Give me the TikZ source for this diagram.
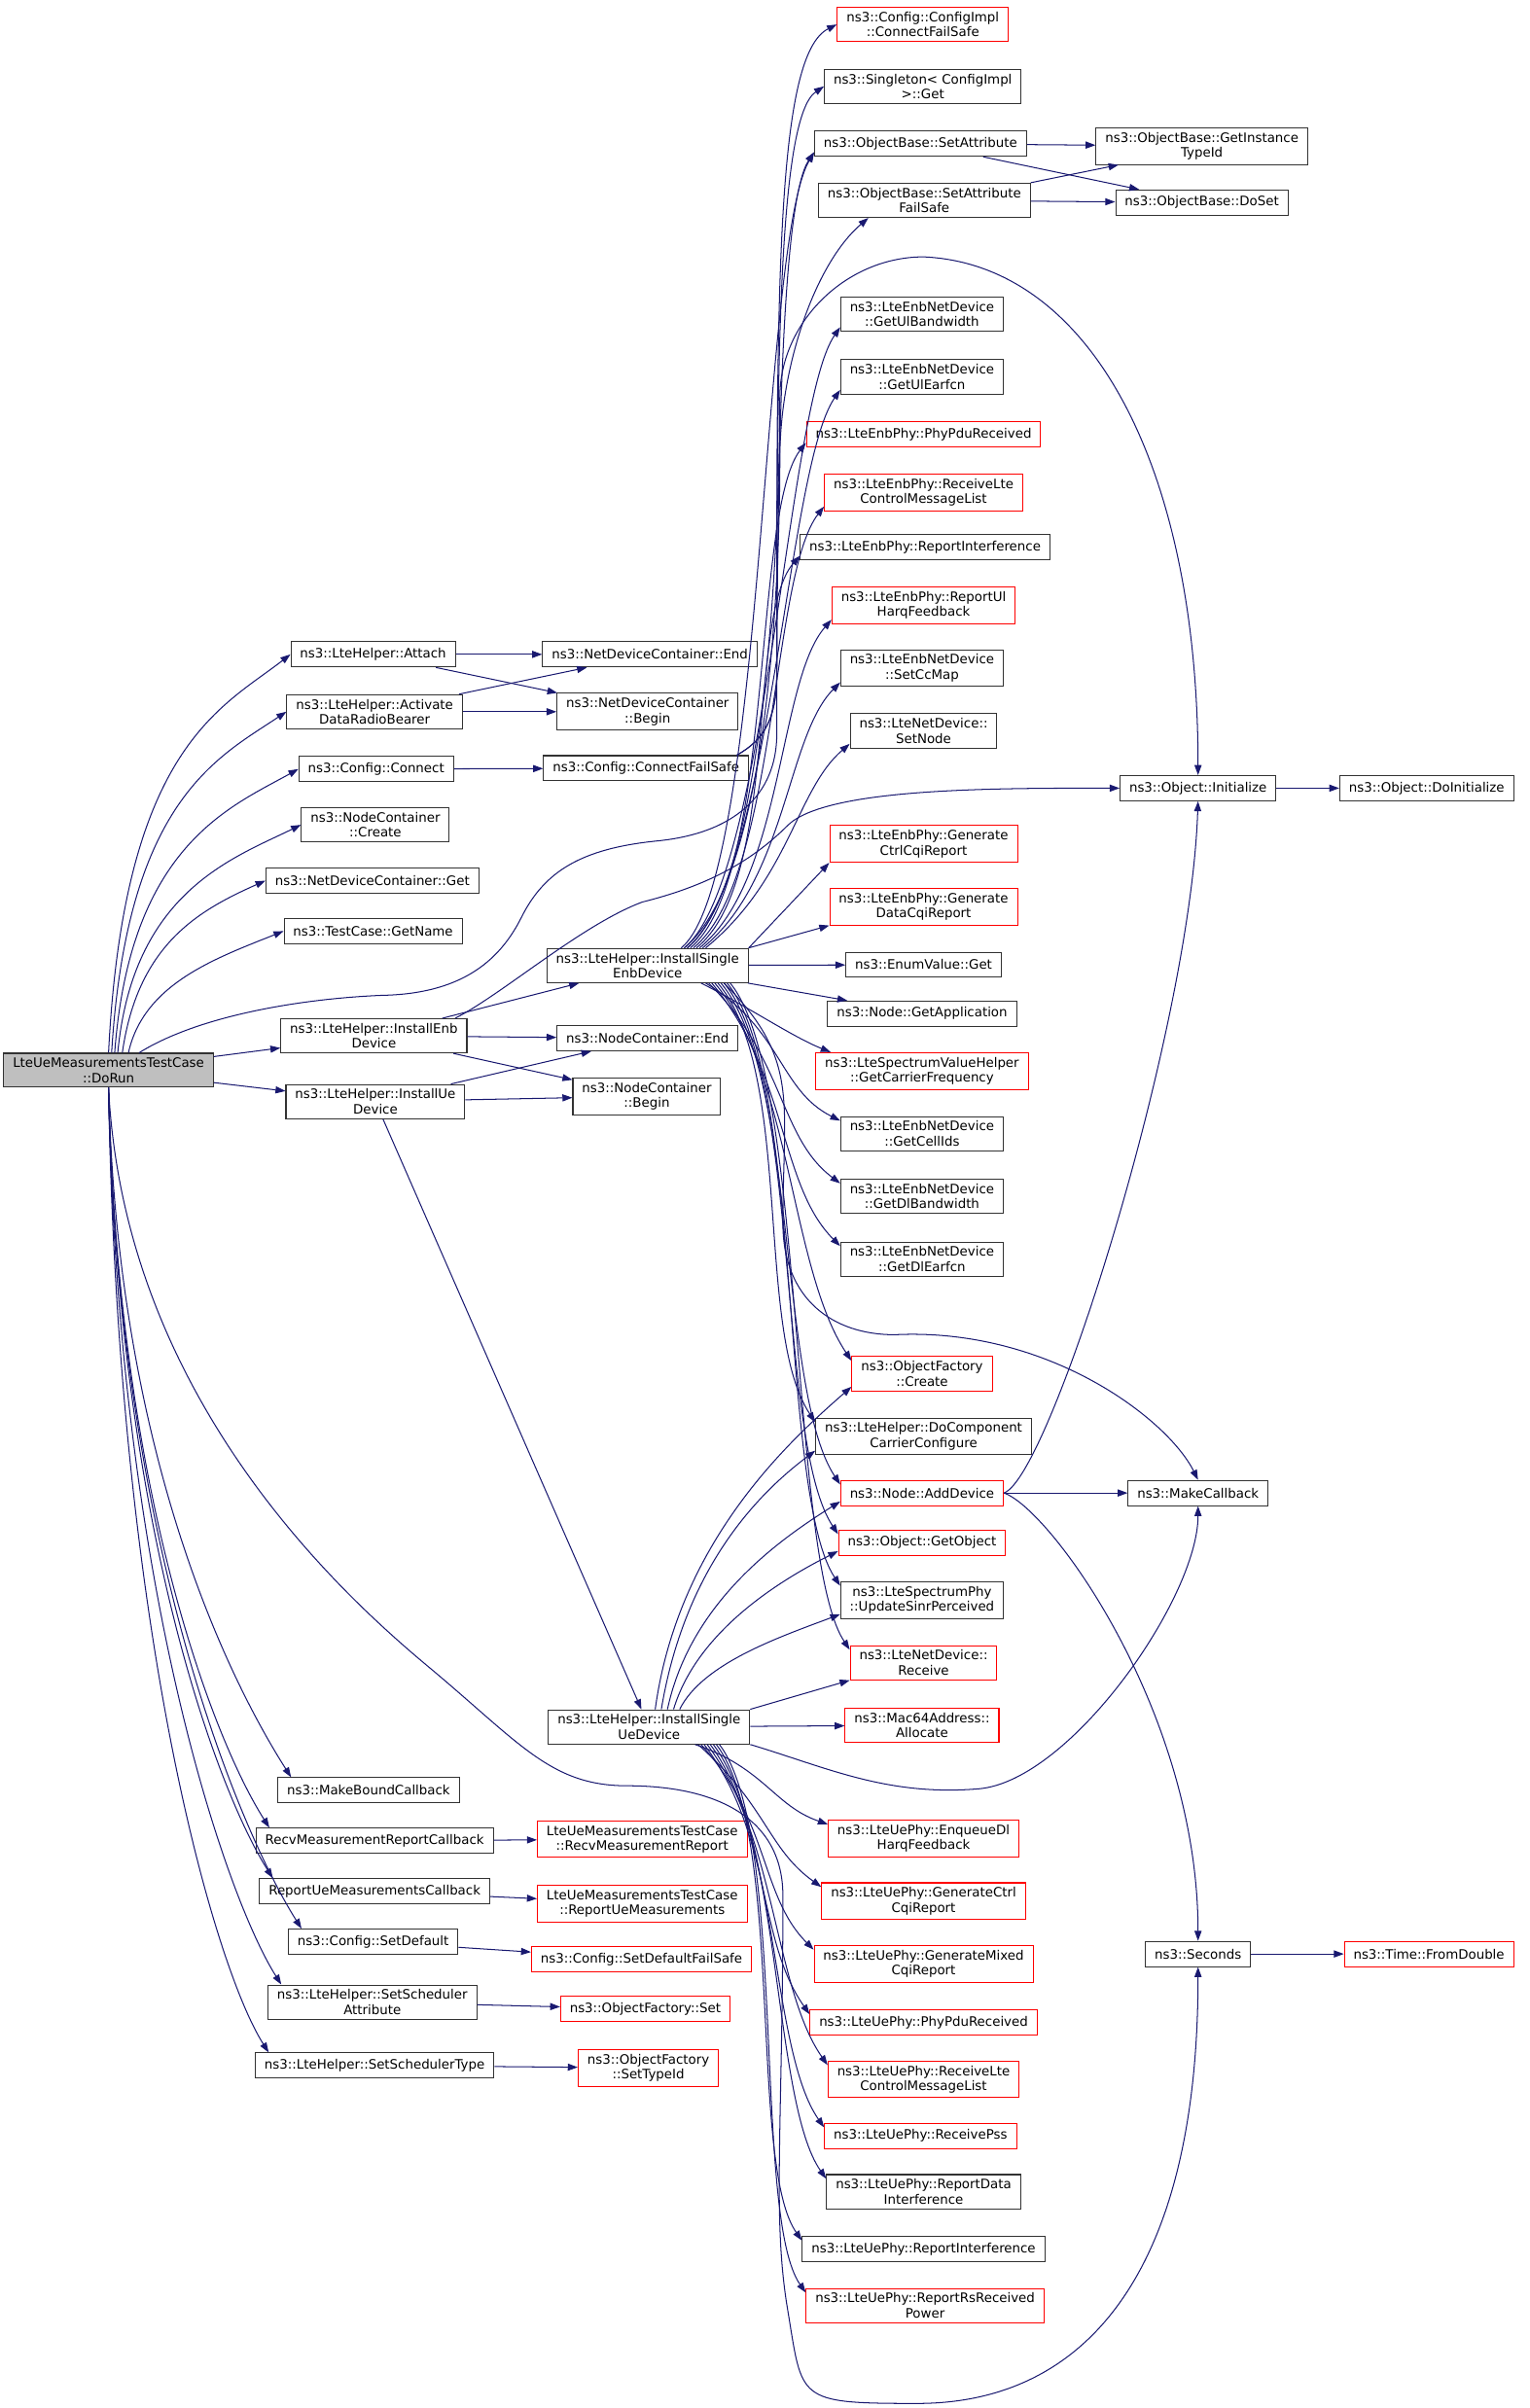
\documentclass[tikz,border=0pt]{standalone}
\usepackage{fontspec}
\setmainfont{DejaVu Sans}
\usetikzlibrary{arrows.meta}
\definecolor{edgeblue}{RGB}{25,25,112}
\definecolor{rootgray}{RGB}{191,191,191}

\begin{document}
\begin{tikzpicture}[x=1pt,y=-1pt,>={Triangle[length=6.5pt,width=4.6pt]},
    fn/.style={draw=black!80,line width=0.65pt,fill=white,align=center,inner xsep=6pt,inner ysep=3pt,minimum height=16.5pt,font=\fontsize{8.5}{9.8}\selectfont},
    fnred/.style={fn,draw=red},
    fnroot/.style={fn,fill=rootgray},
    call/.style={->,draw=edgeblue,line width=0.65pt}]

    \useasboundingbox (0,0) rectangle (1000,1575);

    \node[fnroot] (dorun) at (71,700) {LteUeMeasurementsTestCase\\::DoRun};

    \node[fn] (attach) at (244,428) {ns3::LteHelper::Attach};
    \node[fn] (activate) at (245,465.5) {ns3::LteHelper::Activate\\DataRadioBearer};
    \node[fn] (connect) at (246,503) {ns3::Config::Connect};
    \node[fn] (create) at (245.5,539.5) {ns3::NodeContainer\\::Create};
    \node[fn] (ndcget) at (243.5,576) {ns3::NetDeviceContainer::Get};
    \node[fn] (getname) at (244,609) {ns3::TestCase::GetName};
    \node[fn] (installenb) at (244.5,677.5) {ns3::LteHelper::InstallEnb\\Device};
    \node[fn] (installue) at (245.5,720.5) {ns3::LteHelper::InstallUe\\Device};
    \node[fn] (mkbound) at (241,1171) {ns3::MakeBoundCallback};
    \node[fn] (recvcb) at (245,1204) {RecvMeasurementReportCallback};
    \node[fn] (reportcb) at (245,1237) {ReportUeMeasurementsCallback};
    \node[fn] (setdefault) at (244,1270) {ns3::Config::SetDefault};
    \node[fn] (setschedattr) at (243.5,1309.5) {ns3::LteHelper::SetScheduler\\Attribute};
    \node[fn] (setschedtype) at (245,1351) {ns3::LteHelper::SetSchedulerType};

    \node[fn] (ndcend) at (425,428) {ns3::NetDeviceContainer::End};
    \node[fn] (ndcbegin) at (423.5,465.5) {ns3::NetDeviceContainer\\::Begin};
    \node[fn] (connectfs) at (422.5,502.5) {ns3::Config::ConnectFailSafe};
    \node[fn] (singleenb) at (423.5,631.5) {ns3::LteHelper::InstallSingle\\EnbDevice};
    \node[fn] (ncend) at (423.5,679) {ns3::NodeContainer::End};
    \node[fn] (ncbegin) at (423,717) {ns3::NodeContainer\\::Begin};
    \node[fn] (singleue) at (424.5,1129.5) {ns3::LteHelper::InstallSingle\\UeDevice};
    \node[fnred] (recvrep) at (420,1203) {LteUeMeasurementsTestCase\\::RecvMeasurementReport};
    \node[fnred] (reportue) at (420,1245) {LteUeMeasurementsTestCase\\::ReportUeMeasurements};
    \node[fnred] (setdefaultfs) at (419.5,1281.5) {ns3::Config::SetDefaultFailSafe};
    \node[fnred] (ofset) at (422,1314) {ns3::ObjectFactory::Set};
    \node[fnred] (ofsettypeid) at (424,1352.5) {ns3::ObjectFactory\\::SetTypeId};

    \node[fnred] (cfgimpl) at (603.5,16) {ns3::Config::ConfigImpl\\::ConnectFailSafe};
    \node[fn] (singleton) at (603.5,56.5) {ns3::Singleton< ConfigImpl\\>::Get};
    \node[fn] (setattr) at (602,94) {ns3::ObjectBase::SetAttribute};
    \node[fn] (setattrfs) at (604.5,131) {ns3::ObjectBase::SetAttribute\\FailSafe};
    \node[fn] (ulbw) at (603,205.5) {ns3::LteEnbNetDevice\\::GetUlBandwidth};
    \node[fn] (ulearfcn) at (603,246.5) {ns3::LteEnbNetDevice\\::GetUlEarfcn};
    \node[fnred] (enbpdu) at (604,284) {ns3::LteEnbPhy::PhyPduReceived};
    \node[fnred] (enbrecv) at (604,322) {ns3::LteEnbPhy::ReceiveLte\\ControlMessageList};
    \node[fn] (enbintf) at (605,358) {ns3::LteEnbPhy::ReportInterference};
    \node[fnred] (enbharq) at (604,396) {ns3::LteEnbPhy::ReportUl\\HarqFeedback};
    \node[fn] (setccmap) at (603,437) {ns3::LteEnbNetDevice\\::SetCcMap};
    \node[fn] (setnode) at (604,478) {ns3::LteNetDevice::\\SetNode};
    \node[fnred] (enbctrl) at (604,552) {ns3::LteEnbPhy::Generate\\CtrlCqiReport};
    \node[fnred] (enbdata) at (604,593) {ns3::LteEnbPhy::Generate\\DataCqiReport};
    \node[fn] (enumget) at (604,631) {ns3::EnumValue::Get};
    \node[fn] (getapp) at (603,663) {ns3::Node::GetApplication};
    \node[fnred] (carrier) at (603,700.5) {ns3::LteSpectrumValueHelper\\::GetCarrierFrequency};
    \node[fn] (cellids) at (603,741.5) {ns3::LteEnbNetDevice\\::GetCellIds};
    \node[fn] (dlbw) at (603,782.5) {ns3::LteEnbNetDevice\\::GetDlBandwidth};
    \node[fn] (dlearfcn) at (603,823.5) {ns3::LteEnbNetDevice\\::GetDlEarfcn};
    \node[fnred] (ofcreate) at (603,898.5) {ns3::ObjectFactory\\::Create};
    \node[fn] (docc) at (604,939.5) {ns3::LteHelper::DoComponent\\CarrierConfigure};
    \node[fnred] (adddev) at (603,976.5) {ns3::Node::AddDevice};
    \node[fnred] (getobj) at (603,1009) {ns3::Object::GetObject};
    \node[fn] (sinr) at (603,1046.5) {ns3::LteSpectrumPhy\\::UpdateSinrPerceived};
    \node[fnred] (receive) at (604,1087.5) {ns3::LteNetDevice::\\Receive};
    \node[fnred] (mac64) at (603,1128.5) {ns3::Mac64Address::\\Allocate};
    \node[fnred] (uedl) at (604,1202.5) {ns3::LteUePhy::EnqueueDl\\HarqFeedback};
    \node[fnred] (uectrl) at (604,1243.5) {ns3::LteUePhy::GenerateCtrl\\CqiReport};
    \node[fnred] (uemixed) at (604,1284.5) {ns3::LteUePhy::GenerateMixed\\CqiReport};
    \node[fnred] (uepdu) at (604,1323) {ns3::LteUePhy::PhyPduReceived};
    \node[fnred] (uerecv) at (604,1360) {ns3::LteUePhy::ReceiveLte\\ControlMessageList};
    \node[fnred] (uepss) at (602,1397) {ns3::LteUePhy::ReceivePss};
    \node[fn] (uedata) at (604,1433.5) {ns3::LteUePhy::ReportData\\Interference};
    \node[fn] (ueintf) at (604,1471) {ns3::LteUePhy::ReportInterference};
    \node[fnred] (uers) at (605,1508) {ns3::LteUePhy::ReportRsReceived\\Power};

    \node[fn] (insttype) at (786,95.5) {ns3::ObjectBase::GetInstance\\TypeId};
    \node[fn] (doset) at (786,132.5) {ns3::ObjectBase::DoSet};
    \node[fn] (init) at (783.5,515.5) {ns3::Object::Initialize};
    \node[fn] (mkcb) at (783.5,976.5) {ns3::MakeCallback};
    \node[fn] (seconds) at (783.5,1278) {ns3::Seconds};
    \node[fn] (doinit) at (933,515.5) {ns3::Object::DoInitialize};
    \node[fnred] (fromdouble) at (934.5,1278) {ns3::Time::FromDouble};

    \foreach \t/\s/\a/\b in {attach/0/200/35, activate/2/165/30, connect/4/135/25, create/6/105/22, ndcget/9/70/20, getname/13/45/18}{
        \draw[call] ([xshift=\s]dorun.north) .. controls +(10,-\a) and +(-45,\b) .. (\t.west);
    }
    \foreach \t/\a in {mkbound/250, recvcb/270, reportcb/290, setdefault/310, setschedattr/330, setschedtype/360}{
        \draw[call] (dorun.south) .. controls +(6,\a) and +(-35,-55) .. ([xshift=9]\t.north west);
    }
    \path (dorun) edge[call] (installenb)
          (dorun) edge[call] (installue);

    \draw[call] ([xshift=20]dorun.north) .. controls +(40,-25) and +(-50,2) .. (250,651)
        .. controls +(50,-1) and +(-15,30) .. (341,600)
        .. controls +(15,-30) and +(-50,5) .. (430,550)
        .. controls +(50,-5) and +(0,40) .. (508,480)
        .. controls +(0,-200) and +(-20,30) .. ([yshift=3]setattr.south west);
    \draw[call] (dorun.south) .. controls +(10,200) and +(-60,-50) .. (280,1090)
        .. controls +(60,50) and +(-50,0) .. (410,1168)
        .. controls +(60,0) and +(0,-50) .. (512,1240)
        .. controls +(0,150) and +(-10,-60) .. (515,1510)
        .. controls +(10,60) and +(-80,0) .. (600,1572)
        .. controls +(110,0) and +(0,200) .. (seconds.south);

    \path (attach) edge[call] (ndcend)
          (attach) edge[call] (ndcbegin)
          (activate) edge[call] (ndcend)
          (activate) edge[call] (ndcbegin)
          (connect) edge[call] (connectfs)
          (installenb) edge[call] (singleenb)
          (installenb) edge[call] (ncend)
          (installenb) edge[call] (ncbegin)
          (installue) edge[call] (ncend)
          (installue) edge[call] (ncbegin)
          (installue) edge[call] (singleue)
          (recvcb) edge[call] (recvrep)
          (reportcb) edge[call] (reportue)
          (setdefault) edge[call] (setdefaultfs)
          (setschedattr) edge[call] (ofset)
          (setschedtype) edge[call] (ofsettypeid);

    \draw[call] ([xshift=-8]installenb.north east) .. controls +(30,-15) and +(-40,15) .. (420,590)
        .. controls +(40,-10) and +(-25,25) .. (515,540)
        .. controls +(25,-25) and +(-80,0) .. (init.west);

    \draw[call] ([xshift=-8]connectfs.north east) .. controls +(18,-10) and +(0,30) .. (508,440)
        .. controls +(0,-250) and +(-40,20) .. (cfgimpl.west);
    \draw[call] ([xshift=-8]connectfs.north east) .. controls +(18,-10) and +(0,30) .. (508,440)
        .. controls +(0,-200) and +(-30,20) .. (singleton.west);

    \foreach \t/\s/\b in {setattr/22/60, ulbw/24/50, ulearfcn/26/50, enbpdu/28/45, enbrecv/30/45, enbintf/32/40, enbharq/34/40, setccmap/36/35, setnode/38/30}{
        \draw[call] ([xshift=\s]singleenb.north) .. controls +(55,-45) and +(-35,\b) .. ([yshift=3]\t.south west);
    }
    \draw[call] ([xshift=24]singleenb.north) .. controls +(55,-45) and +(0,80) .. (510,300)
        .. controls +(0,-60) and +(-35,30) .. ([xshift=33]setattrfs.south west);
    \draw[call] ([xshift=26]singleenb.north) .. controls +(55,-45) and +(0,60) .. (510,260)
        .. controls +(0,-50) and +(-50,0) .. (604,168)
        .. controls +(110,5) and +(0,-200) .. (init.north);
    \path (singleenb.north east) edge[call] (enbctrl.south west)
          (singleenb.north east) edge[call] (enbdata.south west)
          (singleenb) edge[call] (enumget)
          (singleenb) edge[call] (getapp);
    \draw[call] ([xshift=35]singleenb.south) .. controls +(30,15) and +(-25,-10) .. ([xshift=10]carrier.north west);
    \foreach \t/\s/\a/\b in {cellids/38/30/20, dlbw/40/50/30, dlearfcn/42/60/40, ofcreate/44/60/60, docc/46/60/60, adddev/48/60/60, getobj/50/60/60, sinr/52/60/60, receive/54/60/60}{
        \draw[call] ([xshift=\s]singleenb.south) .. controls +(50,\a) and +(-40,-\b) .. ([yshift=-3]\t.north west);
    }
    \draw[call] ([xshift=50]singleenb.south) .. controls +(50,50) and +(0,-80) .. (512,800)
        .. controls +(0,50) and +(-40,0) .. (585,873)
        .. controls +(100,-5) and +(-20,-40) .. (mkcb.north);

    \foreach \t/\s/\a/\b in {ofcreate/4/110/35, docc/8/90/30, adddev/12/70/25, getobj/16/50/20, sinr/20/30/15}{
        \draw[call] ([xshift=\s]singleue.north) .. controls +(15,-\a) and +(-40,\b) .. ([yshift=3]\t.south west);
    }
    \path (singleue.north east) edge[call] (receive.south west)
          (singleue) edge[call] (mac64);
    \draw[call] (singleue.south east) .. controls +(50,15) and +(-60,5) .. (640,1170)
        .. controls +(60,-5) and +(0,60) .. (mkcb.south);
    \foreach \t/\s/\a/\b in {uedl/30/15/12, uectrl/32/40/25, uemixed/34/50/35, uepdu/36/60/50, uerecv/38/60/50, uepss/40/60/50, uedata/42/60/50, ueintf/44/60/50, uers/46/60/50}{
        \draw[call] ([xshift=\s]singleue.south) .. controls +(45,\a) and +(-35,-\b) .. ([yshift=-3]\t.north west);
    }

    \path (setattr) edge[call] (insttype)
          (setattr) edge[call] (doset)
          (setattrfs.north east) edge[call] ([xshift=15]insttype.south west)
          (setattrfs) edge[call] (doset)
          (init) edge[call] (doinit)
          (adddev) edge[call] (mkcb)
          (seconds) edge[call] (fromdouble);
    \draw[call] (adddev.east) .. controls +(30,-10) and +(-5,150) .. (init.south);
    \draw[call] (adddev.east) .. controls +(30,10) and +(0,-150) .. (seconds.north);

\end{tikzpicture}
\end{document}
